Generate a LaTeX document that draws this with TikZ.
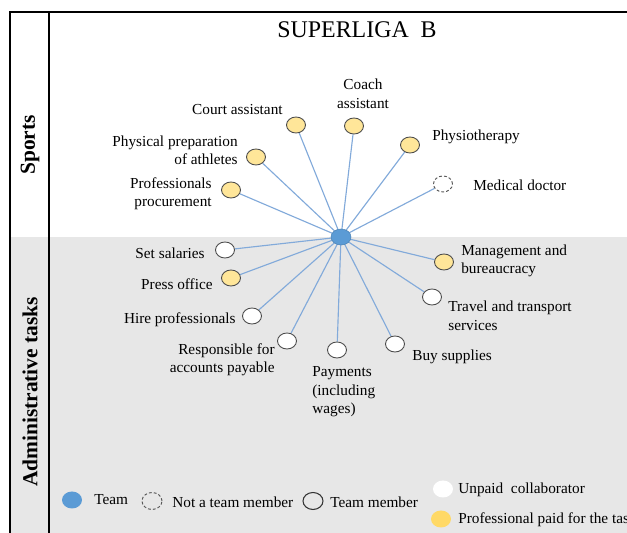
\documentclass[tikz,border=0pt]{standalone}
\usepackage{fontspec}
\setmainfont{Liberation Serif}
\usetikzlibrary{shapes.geometric,backgrounds}
\definecolor{teamblue}{RGB}{91,155,213}
\definecolor{paidyellow}{RGB}{255,230,153}
\definecolor{keyyellow}{RGB}{255,217,102}
\definecolor{admingray}{RGB}{231,231,231}
\definecolor{linkblue}{RGB}{130,170,218}
\tikzset{
  basic/.style  = {ellipse, minimum width=0.38cm, minimum height=0.32cm, inner sep=0pt},
  paid/.style   = {basic, draw=black!70, fill=paidyellow, line width=0.5pt},
  member/.style = {basic, draw=black!70, fill=white, line width=0.5pt},
  outsider/.style = {basic, draw=black!65, fill=white, line width=0.55pt,
                   dash pattern=on 1.6pt off 1.2pt},
  team/.style   = {basic, minimum width=0.4cm, fill=teamblue, draw=teamblue!85!black, line width=0.3pt},
  key/.style    = {basic, minimum width=0.4cm, minimum height=0.34cm},
  tag/.style    = {font=\fontsize{8.7}{10.5}\selectfont, inner sep=0pt},
  link/.style   = {draw=linkblue, line width=0.65pt},
  side/.style   = {font=\fontsize{12.2}{14}\selectfont\bfseries, rotate=90, inner sep=0pt}
}

\begin{document}
\begin{tikzpicture}[x=0.02cm, y=-0.02cm]
  \useasboundingbox (0,0) rectangle (627,533);
  % panels
  \draw[line width=0.9pt] (10,533) -- (10,12) -- (627,12);
  \draw[line width=0.9pt] (49,12) -- (49,533);
  \node[side] (sports) at (30,145) {Sports};
  \node[side] (admin)  at (30,392) {Administrative tasks};
  \node[font=\fontsize{13.6}{16}\selectfont, inner sep=0pt] (title) at (357,30) {SUPERLIGA\ \ B};

  % hub and tasks
  \node[team] (T) at (341,237) {};
  % sports
  \node[paid]     (S1) at (231,190) {};
  \node[paid]     (S2) at (256,157) {};
  \node[paid]     (S3) at (296,125) {};
  \node[paid]     (S4) at (354,126) {};
  \node[paid]     (S5) at (410,145) {};
  \node[outsider] (S6) at (443,184) {};
  % administrative
  \node[member]   (A1) at (225,250) {};
  \node[paid]     (A2) at (231,278) {};
  \node[member]   (A3) at (252,316) {};
  \node[member]   (A4) at (287,341) {};
  \node[member]   (A5) at (337,350) {};
  \node[member]   (A6) at (395,344) {};
  \node[member]   (A7) at (432,297) {};
  \node[paid]     (A8) at (444,262) {};
  \begin{scope}[on background layer]
    \fill[admingray] (10.5,237) rectangle (627,533);
    \foreach \n in {S1,S2,S3,S4,S5,S6,A1,A2,A3,A4,A5,A6,A7,A8}
      \draw[link] (T.center) -- (\n);
  \end{scope}

  % labels
  \node[tag, anchor=east, align=right] (lS1) at (212,193.5) {Professionals\\procurement};
  \node[tag, anchor=east, align=right] (lS2) at (238,150.5) {Physical preparation\\of athletes};
  \node[tag, anchor=east] (lS3) at (283,110) {Court assistant};
  \node[tag, align=center] (lS4) at (363,94) {Coach\\assistant};
  \node[tag, anchor=west] (lS5) at (432,137) {Physiotherapy};
  \node[tag, anchor=west] (lS6) at (473,185) {Medical doctor};
  \node[tag, anchor=east] (lA1) at (205,253) {Set salaries};
  \node[tag, anchor=east] (lA2) at (213,284) {Press office};
  \node[tag, anchor=east] (lA3) at (236,320) {Hire professionals};
  \node[tag, anchor=east, align=right] (lA4) at (275,360) {Responsible for\\accounts payable};
  \node[tag, anchor=west, align=left] (lA5) at (312,392) {Payments\\(including\\wages)};
  \node[tag, anchor=west] (lA6) at (412,357) {Buy supplies};
  \node[tag, anchor=west, align=left] (lA7) at (448,316) {Travel and transport\\services};
  \node[tag, anchor=west, align=left] (lA8) at (461,261) {Management and\\bureaucracy};

  % legend
  \node[key, fill=teamblue] (k1) at (72,500) {};
  \node[tag, anchor=west] (t1) at (94,500) {Team};
  \node[outsider, key, fill=none] (k2) at (152,501) {};
  \node[tag, anchor=west] (t2) at (172,502) {Not a team member};
  \node[key, draw=black!80, line width=0.6pt] (k3) at (313,501) {};
  \node[tag, anchor=west] (t3) at (330,502) {Team member};
  \node[key, fill=white] (k4) at (443,489) {};
  \node[tag, anchor=west] (t4) at (458,490) {Unpaid\ \ collaborator};
  \node[key, fill=keyyellow] (k5) at (441,519) {};
  \node[tag, anchor=west] (t5) at (458,520) {Professional paid for the task};
\end{tikzpicture}
\end{document}
